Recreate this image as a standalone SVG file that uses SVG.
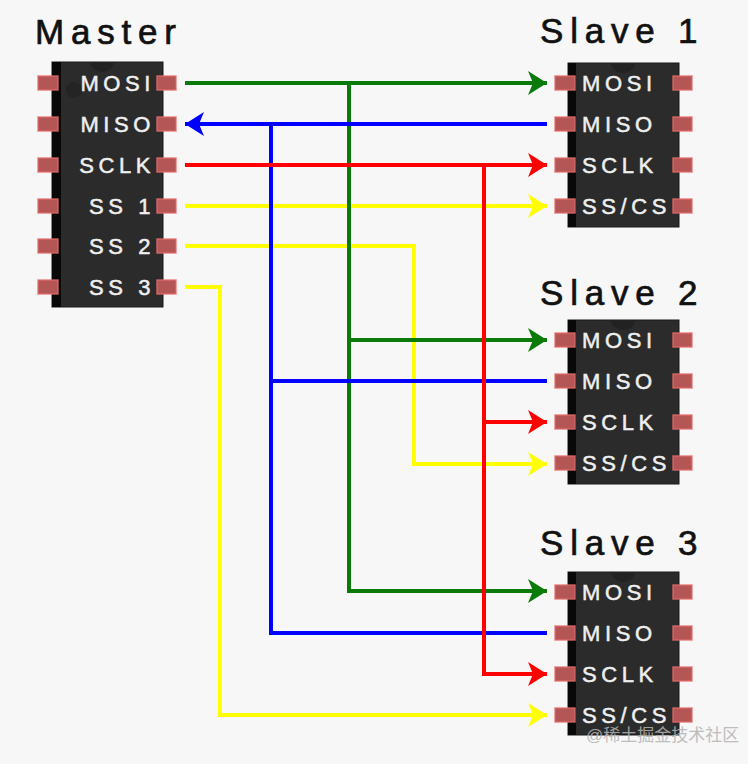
<svg xmlns="http://www.w3.org/2000/svg" width="748" height="764" viewBox="0 0 748 764">
<style>
.bg{fill:#f7f7f7}
.body{fill:#2b2b2b;stroke:#1a1a1a;stroke-width:1}
.strip{fill:#080808}
.pin{fill:#b45656;stroke:#e26a6a;stroke-width:1.5;stroke-opacity:0.8}
.lbl{font-family:"Liberation Sans",Arial,sans-serif;font-size:22px;letter-spacing:4.6px;fill:#efefef;stroke:#efefef;stroke-width:0.5}
.ttl{font-family:"Liberation Sans",Arial,sans-serif;font-size:35px;letter-spacing:6.8px;fill:#111;stroke:#111;stroke-width:0.7}
.w{fill:none;stroke-width:4;stroke-linejoin:miter;stroke-linecap:butt}
.g{stroke:#0a7a0a}.b{stroke:#0000ff}.r{stroke:#ff0000}.y{stroke:#ffff00}
.wm{font-family:"Liberation Sans","Noto Sans CJK SC",sans-serif;font-size:17px;fill:#b4b4b4;opacity:0.85}
</style>
<defs>
<marker id="ag" markerUnits="userSpaceOnUse" markerWidth="22" markerHeight="26" refX="20" refY="12" orient="auto" overflow="visible"><path d="M20,12 L1,0 L6,12 L1,24 Z" fill="#0a7a0a"/></marker>
<marker id="ab" markerUnits="userSpaceOnUse" markerWidth="22" markerHeight="26" refX="20" refY="12" orient="auto" overflow="visible"><path d="M20,12 L1,0 L6,12 L1,24 Z" fill="#0000ff"/></marker>
<marker id="ar" markerUnits="userSpaceOnUse" markerWidth="22" markerHeight="26" refX="20" refY="12" orient="auto" overflow="visible"><path d="M20,12 L1,0 L6,12 L1,24 Z" fill="#ff0000"/></marker>
<marker id="ay" markerUnits="userSpaceOnUse" markerWidth="22" markerHeight="26" refX="20" refY="12" orient="auto" overflow="visible"><path d="M20,12 L1,0 L6,12 L1,24 Z" fill="#ffff00"/></marker>
</defs>
<rect class="bg" x="0" y="0" width="748" height="764"/>

<g id="master">
<text class="ttl" x="35" y="44">Master</text>
<rect class="body" x="52" y="62" width="111" height="245"/>
<rect class="strip" x="52" y="62" width="9" height="245"/>
<path d="M90,62 a12,10 0 0 0 24,0 Z" fill="#222"/>
<circle cx="74" cy="90" r="8" fill="#242424"/>
<g class="pins">
<rect class="pin" x="38" y="76" width="20" height="14"/><rect class="pin" x="157" y="76" width="19" height="14"/>
<rect class="pin" x="38" y="117" width="20" height="14"/><rect class="pin" x="157" y="117" width="19" height="14"/>
<rect class="pin" x="38" y="158" width="20" height="14"/><rect class="pin" x="157" y="158" width="19" height="14"/>
<rect class="pin" x="38" y="199" width="20" height="14"/><rect class="pin" x="157" y="199" width="19" height="14"/>
<rect class="pin" x="38" y="239" width="20" height="14"/><rect class="pin" x="157" y="239" width="19" height="14"/>
<rect class="pin" x="38" y="280" width="20" height="14"/><rect class="pin" x="157" y="280" width="19" height="14"/>
</g>
<g class="lbl" text-anchor="end">
<text x="155" y="91">MOSI</text>
<text x="155" y="132">MISO</text>
<text x="155" y="173">SCLK</text>
<text x="155" y="214">SS 1</text>
<text x="155" y="254">SS 2</text>
<text x="155" y="295">SS 3</text>
</g>
</g>

<g id="slave1">
<text class="ttl" x="540" y="43">Slave 1</text>
<g transform="translate(0,63)">
<rect class="body" x="568" y="0" width="111" height="164"/>
<rect class="strip" x="568" y="0" width="8" height="164"/>
<path d="M611,0 a12,10 0 0 0 24,0 Z" fill="#222"/>
<rect class="pin" x="555" y="13" width="20" height="14"/><rect class="pin" x="673" y="13" width="19" height="14"/>
<rect class="pin" x="555" y="54" width="20" height="14"/><rect class="pin" x="673" y="54" width="19" height="14"/>
<rect class="pin" x="555" y="95" width="20" height="14"/><rect class="pin" x="673" y="95" width="19" height="14"/>
<rect class="pin" x="555" y="136" width="20" height="14"/><rect class="pin" x="673" y="136" width="19" height="14"/>
<g class="lbl"><text x="582" y="28">MOSI</text><text x="582" y="69">MISO</text><text x="582" y="110">SCLK</text><text x="582" y="151">SS/CS</text></g>
</g>
</g>

<g id="slave2">
<text class="ttl" x="540" y="305">Slave 2</text>
<g transform="translate(0,320)">
<rect class="body" x="568" y="0" width="111" height="164"/>
<rect class="strip" x="568" y="0" width="8" height="164"/>
<path d="M611,0 a12,10 0 0 0 24,0 Z" fill="#222"/>
<rect class="pin" x="555" y="13" width="20" height="14"/><rect class="pin" x="673" y="13" width="19" height="14"/>
<rect class="pin" x="555" y="54" width="20" height="14"/><rect class="pin" x="673" y="54" width="19" height="14"/>
<rect class="pin" x="555" y="95" width="20" height="14"/><rect class="pin" x="673" y="95" width="19" height="14"/>
<rect class="pin" x="555" y="136" width="20" height="14"/><rect class="pin" x="673" y="136" width="19" height="14"/>
<g class="lbl"><text x="582" y="28">MOSI</text><text x="582" y="69">MISO</text><text x="582" y="110">SCLK</text><text x="582" y="151">SS/CS</text></g>
</g>
</g>

<g id="slave3">
<text class="ttl" x="540" y="555">Slave 3</text>
<g transform="translate(0,572)">
<rect class="body" x="568" y="0" width="111" height="163"/>
<rect class="strip" x="568" y="0" width="8" height="163"/>
<path d="M611,0 a12,10 0 0 0 24,0 Z" fill="#222"/>
<rect class="pin" x="555" y="13" width="20" height="14"/><rect class="pin" x="673" y="13" width="19" height="14"/>
<rect class="pin" x="555" y="54" width="20" height="14"/><rect class="pin" x="673" y="54" width="19" height="14"/>
<rect class="pin" x="555" y="95" width="20" height="14"/><rect class="pin" x="673" y="95" width="19" height="14"/>
<rect class="pin" x="555" y="136" width="20" height="14"/><rect class="pin" x="673" y="136" width="19" height="14"/>
<g class="lbl"><text x="582" y="28">MOSI</text><text x="582" y="69">MISO</text><text x="582" y="110">SCLK</text><text x="582" y="151">SS/CS</text></g>
</g>
</g>

<g id="connectors">
<path class="w y" d="M185,206 H547" marker-end="url(#ay)"/>
<path class="w y" d="M185,246 H414 V464 H547" marker-end="url(#ay)"/>
<path class="w y" d="M185,287 H220 V715 H547" marker-end="url(#ay)"/>
<path class="w g" d="M185,83 H547" marker-end="url(#ag)"/>
<path class="w g" d="M349,83 V591 H547" marker-end="url(#ag)"/>
<path class="w g" d="M349,340 H547" marker-end="url(#ag)"/>
<path class="w b" d="M547,124 H185" marker-end="url(#ab)"/>
<path class="w b" d="M271,124 V633 H547"/>
<path class="w b" d="M271,381 H547"/>
<path class="w r" d="M185,165 H547" marker-end="url(#ar)"/>
<path class="w r" d="M484,165 V674 H547" marker-end="url(#ar)"/>
<path class="w r" d="M484,422 H547" marker-end="url(#ar)"/>
</g>

<text class="wm" x="586" y="741">@稀土掘金技术社区</text>
</svg>
